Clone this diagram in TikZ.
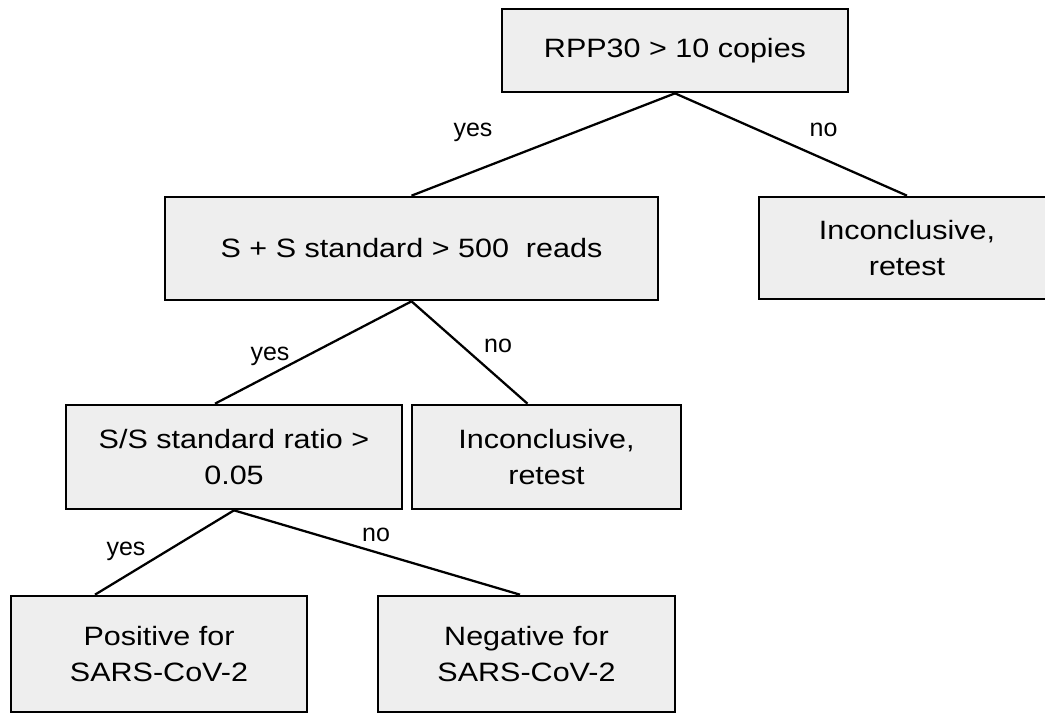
\documentclass[tikz,border=0pt]{standalone}
\usepackage{fontspec}
\setmainfont[FakeStretch=1.15]{Liberation Sans}
\newfontfamily\lblfont{Liberation Sans}
\usepackage{tikz}
\usetikzlibrary{calc}
\definecolor{boxgray}{HTML}{EEEEEE}

\begin{document}
\begin{tikzpicture}[x=0.75pt, y=-0.75pt,
        box/.style={draw, rectangle, fill=boxgray, line width=2pt, align=center, inner sep=0pt,
            font=\fontsize{19.9}{26.8}\selectfont},
        edge/.style={line width=1.7pt},
        lbl/.style={inner sep=0pt, font=\lblfont\fontsize{18.75}{22}\selectfont}]
        \useasboundingbox (0,0) rectangle (1045,714);
        % boxes
        \node[box, minimum width=259.5pt, minimum height=62.25pt] (rpp) at (675,50.5) {RPP30 > 10 copies};
        \node[box, minimum width=369.75pt, minimum height=77.25pt] (sum) at (411.5,248.5) {S + S standard > 500~ reads};
        \node[box, minimum width=222pt, minimum height=76.5pt] (retestA) at (907,248) {Inconclusive,\\retest};
        \node[box, minimum width=252pt, minimum height=78pt] (ratio) at (234,457) {S/S standard ratio >\\0.05};
        \node[box, minimum width=201.75pt, minimum height=78pt] (retestB) at (546.5,457) {Inconclusive,\\retest};
        \node[box, minimum width=222pt, minimum height=87pt] (pos) at (159,654) {Positive for\\SARS-CoV-2};
        \node[box, minimum width=222.75pt, minimum height=87pt] (neg) at (526.5,654) {Negative for\\SARS-CoV-2};
        % branches
        \draw[edge] (rpp.south) -- (sum.north);
        \draw[edge] (rpp.south) -- (retestA.north);
        \draw[edge] (sum.south) -- ($(ratio.north)+(-19,0)$);
        \draw[edge] (sum.south) -- ($(retestB.north)+(-19,0)$);
        \draw[edge] (ratio.south) -- ($(pos.north)+(-64,0)$);
        \draw[edge] (ratio.south) -- ($(neg.north)+(-6.5,0)$);
        % answers
        \node[lbl] (yesA) at (473,132) {yes};
        \node[lbl] (noA) at (823.5,129.5) {no};
        \node[lbl] (yesB) at (270,356) {yes};
        \node[lbl] (noB) at (498,346) {no};
        \node[lbl] (yesC) at (126,551) {yes};
        \node[lbl] (noC) at (376,534.5) {no};
    \end{tikzpicture}
\end{document}
